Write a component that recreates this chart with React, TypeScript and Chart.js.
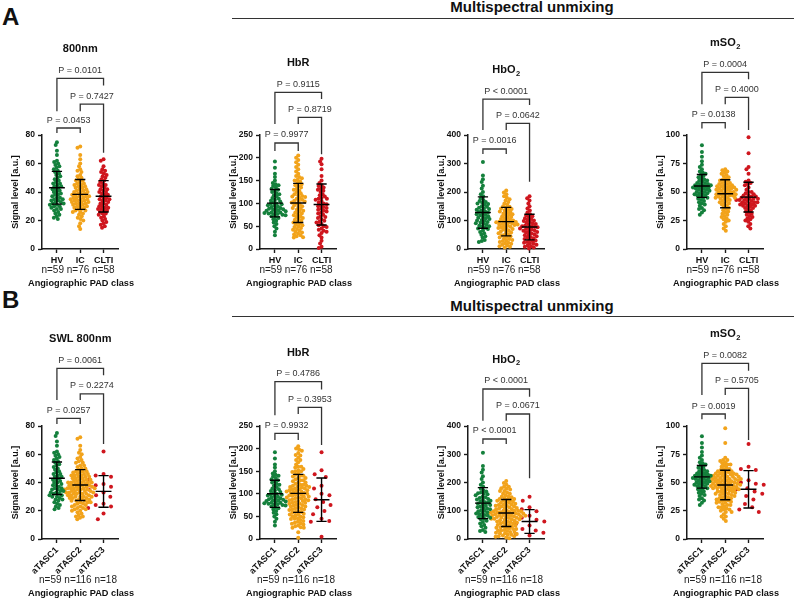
import React, { useEffect, useRef } from 'react';
import { Chart, registerables } from 'chart.js';
Chart.register(...registerables);

const FONT = "'Liberation Sans', Arial, Helvetica, sans-serif";
const AXIS = '#1a1a1a';
const GROUP_COLORS = ['#14803c', '#f2a31b', '#cf161e'];

const CATS_PAD = ['HV', 'IC', 'CLTI'];
const CATS_TASC = ['aTASC1', 'aTASC2', 'aTASC3'];
const N_PAD = [59, 76, 58];
const N_TASC = [59, 116, 18];

// ---------- 800 nm ----------
const HV_800 = [75,73,69,66,62,61,60,59,58,57,56,55,54,53,52,51,50,49,48,47,46,46,45,44,44,43,42,42,41,40,40,39,38,38,37,36,36,35,34,34,33,32,32,31,31,30,30,29,28,28,27,26,25,24,23,22,21,33,35];
const IC_800 = [72,71,66,63,60,58,56,55,54,52,51,50,49,48,48,47,46,46,45,45,44,44,43,43,42,42,41,41,40,40,40,39,39,38,38,38,37,37,37,36,36,36,35,35,35,34,34,34,33,33,33,32,32,32,31,31,30,30,30,29,29,28,28,27,27,26,26,25,24,23,22,21,20,18,16,14];
const CLTI_800 = [63,62,58,56,55,54,53,52,51,50,49,48,47,46,45,44,43,42,42,41,40,40,39,38,38,37,36,36,35,34,34,33,32,32,31,30,30,29,29,28,28,27,27,26,25,25,24,23,22,21,20,19,18,17,16,15,45,35];
const TASC2_800 = [72,71,66,63,60,58,56,55,54,52,51,50,49,48,48,47,46,46,45,45,44,44,43,43,42,42,41,41,40,40,40,39,39,38,38,38,37,37,37,36,36,36,35,35,35,34,34,34,33,33,33,32,32,32,31,31,30,30,30,29,29,28,28,27,27,26,26,25,24,23,22,21,20,18,16,14,61,57,54,52,50,48,47,46,45,44,43,42,41,40,40,39,38,37,36,36,35,34,33,32,31,30,29,28,27,26,25,24,23,22,21,20,19,17,16,15];
const TASC3_800 = [62,46,45,44,42,39,38,37,35,33,31,30,25,24,23,22,18,14];

// ---------- HbR ----------
const HV_HBR = [192,178,165,158,150,145,142,140,138,135,132,130,128,125,122,120,118,115,112,110,108,106,104,102,100,99,98,96,95,94,92,90,89,88,87,86,85,84,83,82,80,80,79,78,77,76,75,74,72,70,68,65,62,58,55,50,45,38,30];
const IC_HBR = [205,200,195,190,185,180,175,170,165,160,158,155,152,150,148,145,142,140,138,135,132,130,128,125,122,120,118,116,114,112,110,108,106,104,102,100,98,96,94,92,90,88,86,84,82,80,78,76,74,72,70,68,66,64,62,60,58,56,54,52,50,48,46,44,42,40,38,36,34,32,30,28,26,25,115,105];
const CLTI_HBR = [198,192,186,175,160,150,145,140,138,135,132,130,128,125,120,118,115,112,110,108,105,102,100,98,96,94,92,90,88,86,84,82,80,78,75,72,70,68,65,62,60,58,55,52,50,48,45,42,40,38,35,30,25,18,12,5,2,110];
const TASC2_HBR = [205,200,195,190,185,180,175,170,165,160,158,155,152,150,148,145,142,140,138,135,132,130,128,125,122,120,118,116,114,112,110,108,106,104,102,100,98,96,94,92,90,88,86,84,82,80,78,76,74,72,70,68,66,64,62,60,58,56,54,52,50,48,46,44,42,40,38,36,34,32,30,28,26,25,115,105,198,186,175,160,150,140,135,130,125,120,118,115,112,110,108,105,102,100,98,96,94,92,90,88,86,84,80,78,75,72,68,65,60,55,50,45,35,25,15,3];
const TASC3_HBR = [192,152,143,137,118,112,100,97,88,82,75,70,62,55,45,40,38,5];

// ---------- HbO2 ----------
const HV_HBO2 = [305,258,245,235,222,212,200,192,185,178,172,168,165,162,160,158,155,150,148,145,142,140,138,135,132,130,128,125,122,120,118,115,112,110,108,105,102,100,98,95,92,90,88,85,82,80,78,75,72,70,65,60,55,50,45,40,32,28,25];
const IC_HBO2 = [205,198,192,185,180,175,170,165,160,155,150,148,145,142,140,138,135,132,130,128,125,122,120,118,115,112,110,108,105,102,100,98,96,94,92,90,88,86,84,82,80,78,76,74,72,70,68,65,62,60,58,55,52,50,48,45,42,40,38,35,32,30,28,25,22,20,18,15,12,10,8,5,100,95,90,85];
const CLTI_HBO2 = [185,178,170,160,150,142,135,128,122,118,115,112,108,105,102,100,98,95,92,90,88,85,82,80,78,76,74,72,70,68,66,64,62,60,58,55,52,50,48,45,42,40,38,35,32,30,28,25,22,20,18,15,12,10,8,5,2,80];
const TASC2_HBO2 = [205,198,192,185,180,175,170,165,160,155,150,148,145,142,140,138,135,132,130,128,125,122,120,118,115,112,110,108,105,102,100,98,96,94,92,90,88,86,84,82,80,78,76,74,72,70,68,65,62,60,58,55,52,50,48,45,42,40,38,35,32,30,28,25,22,20,18,15,12,10,8,5,100,95,90,85,185,178,170,160,150,142,135,128,122,118,115,110,105,100,98,95,92,90,88,85,82,80,78,75,72,70,66,62,58,55,50,45,40,35,30,25,20,15,10,3];
const TASC3_HBO2 = [150,135,112,105,98,82,75,68,62,55,48,42,35,30,22,18,12,8];

// ---------- mSO2 ----------
const HV_SO2 = [91,85,81,77,74,72,70,68,67,66,65,64,63,62,61,60,60,59,58,58,57,57,56,56,55,55,54,54,53,53,52,52,51,51,50,50,49,49,48,48,47,47,46,45,45,44,43,42,41,40,39,38,36,35,34,32,30,56,54];
const IC_SO2 = [70,69,68,67,66,65,64,63,62,61,60,60,59,58,58,57,57,56,56,55,55,54,54,53,53,52,52,51,51,50,50,49,49,48,48,47,47,46,46,45,45,44,44,43,42,42,41,40,40,39,38,37,36,35,34,33,32,31,30,29,28,27,26,25,24,22,20,18,16,55,50,48,52,47,53,45];
const CLTI_SO2 = [98,84,72,70,66,60,59,58,57,56,54,52,50,49,48,47,46,46,45,45,44,44,43,43,42,42,41,41,40,40,39,39,38,38,37,36,35,34,33,32,31,30,29,28,27,26,25,24,22,20,18,47,44,43,50,36,38,41];
const TASC2_SO2 = [70,69,68,67,66,65,64,63,62,61,60,60,59,58,58,57,57,56,56,55,55,54,54,53,53,52,52,51,51,50,50,49,49,48,48,47,47,46,46,45,45,44,44,43,42,42,41,40,40,39,38,37,36,35,34,33,32,31,30,29,28,27,26,25,24,22,20,18,16,55,50,48,52,47,53,45,98,85,72,70,66,62,60,59,58,57,56,55,54,53,52,51,50,49,48,47,46,45,44,43,42,41,40,39,38,37,36,35,34,33,32,30,28,26,24,20];
const TASC3_SO2 = [84,64,62,61,50,49,52,48,45,44,42,40,38,35,31,28,26,24];

// ---------- means / SD ----------
const MEAN_800_PAD = [43, 38.3, 37];
const SD_800_PAD = [11.5, 10.5, 11];
const MEAN_HBR_PAD = [100.5, 101, 97.5];
const SD_HBR_PAD = [30, 43, 45];
const MEAN_HBO2_PAD = [128, 96, 77];
const SD_HBO2_PAD = [55, 50, 45];
const MEAN_SO2_PAD = [55.3, 48.5, 45.5];
const SD_SO2_PAD = [10, 12.3, 13];
const MEAN_800_TASC = [43, 38.2, 33.7];
const SD_800_TASC = [11.5, 10.9, 11.2];
const MEAN_HBR_TASC = [100, 101, 87];
const SD_HBR_TASC = [30, 42, 48];
const MEAN_HBO2_TASC = [127, 92, 62];
const SD_HBO2_TASC = [55, 48, 42];
const MEAN_SO2_TASC = [55, 47.8, 44];
const SD_SO2_TASC = [10, 13, 16.5];

type Bracket = { from: number; to: number; level: number; leftEnd: number; rightEnd: number; label: string };
const br = (from: number, to: number, level: number, leftEnd: number, rightEnd: number, label: string): Bracket => ({ from, to, level, leftEnd, rightEnd, label });

interface PanelCfg {
  axisX: number; row: number; title: string; sub?: string; yMax: number; step: number;
  cats: string[]; ns: number[]; groups: number[][]; means: number[]; sds: number[]; brackets: Bracket[];
}

const ROWS = [
  { canvasTop: 0, height: 295, plotTop: 135, plotBottom: 249, rot: 0, nOff: 21, tOff: 34 },
  { canvasTop: 290, height: 310, plotTop: 426, plotBottom: 539, rot: 45, nOff: 41, tOff: 54 },
];
const LEFT_W = 45;
const PLOT_W = 76;
const RIGHT_PAD = 36;
const CANVAS_W = LEFT_W + PLOT_W + RIGHT_PAD;
const DOT_R = 2.0;
const DOT_GAP = 3.1;
const SPARSE_GAP = 8;

const PANELS: PanelCfg[] = [
  { axisX: 42, row: 0, title: '800nm', yMax: 80, step: 20, cats: CATS_PAD, ns: N_PAD,
    groups: [HV_800, IC_800, CLTI_800], means: MEAN_800_PAD, sds: SD_800_PAD,
    brackets: [br(0, 1, 84.9, 81.4, 81.4, 'P = 0.0453'), br(1, 2, 101.6, 96.7, 67.5, 'P = 0.7427'), br(0, 2, 119.7, 96.7, 114.8, 'P = 0.0101')] },
  { axisX: 260, row: 0, title: 'HbR', yMax: 250, step: 50, cats: CATS_PAD, ns: N_PAD,
    groups: [HV_HBR, IC_HBR, CLTI_HBR], means: MEAN_HBR_PAD, sds: SD_HBR_PAD,
    brackets: [br(0, 1, 232.5, 215, 215, 'P = 0.9977'), br(1, 2, 288.8, 274, 208, 'P = 0.8719'), br(0, 2, 343.6, 274, 329, 'P = 0.9115')] },
  { axisX: 468, row: 0, title: 'HbO', sub: '2', yMax: 400, step: 100, cats: CATS_PAD, ns: N_PAD,
    groups: [HV_HBO2, IC_HBO2, CLTI_HBO2], means: MEAN_HBO2_PAD, sds: SD_HBO2_PAD,
    brackets: [br(0, 1, 350.9, 333, 333, 'P = 0.0016'), br(1, 2, 441, 417.5, 236, 'P = 0.0642'), br(0, 2, 526, 417.5, 505, 'P < 0.0001')] },
  { axisX: 687, row: 0, title: 'mSO', sub: '2', yMax: 100, step: 25, cats: CATS_PAD, ns: N_PAD,
    groups: [HV_SO2, IC_SO2, CLTI_SO2], means: MEAN_SO2_PAD, sds: SD_SO2_PAD,
    brackets: [br(0, 1, 110.8, 105.8, 105.8, 'P = 0.0138'), br(1, 2, 133, 127, 104.4, 'P = 0.4000'), br(0, 2, 155, 127, 149, 'P = 0.0004')] },
  { axisX: 42, row: 1, title: 'SWL 800nm', yMax: 80, step: 20, cats: CATS_TASC, ns: N_TASC,
    groups: [HV_800, TASC2_800, TASC3_800], means: MEAN_800_TASC, sds: SD_800_TASC,
    brackets: [br(0, 1, 85.4, 81.4, 81.4, 'P = 0.0257'), br(1, 2, 102.7, 98.4, 67.3, 'P = 0.2274'), br(0, 2, 120.8, 98.4, 116, 'P = 0.0061')] },
  { axisX: 260, row: 1, title: 'HbR', yMax: 250, step: 50, cats: CATS_TASC, ns: N_TASC,
    groups: [HV_HBR, TASC2_HBR, TASC3_HBR], means: MEAN_HBR_TASC, sds: SD_HBR_TASC,
    brackets: [br(0, 1, 233.8, 219, 219, 'P = 0.9932'), br(1, 2, 291, 276.5, 208, 'P = 0.3953'), br(0, 2, 348, 274, 331, 'P = 0.4786')] },
  { axisX: 468, row: 1, title: 'HbO', sub: '2', yMax: 400, step: 100, cats: CATS_TASC, ns: N_TASC,
    groups: [HV_HBO2, TASC2_HBO2, TASC3_HBO2], means: MEAN_HBO2_TASC, sds: SD_HBO2_TASC,
    brackets: [br(0, 1, 354, 336, 336, 'P < 0.0001'), br(1, 2, 442.5, 418.8, 215, 'P = 0.0671'), br(0, 2, 531, 418.8, 503.7, 'P < 0.0001')] },
  { axisX: 687, row: 1, title: 'mSO', sub: '2', yMax: 100, step: 25, cats: CATS_TASC, ns: N_TASC,
    groups: [HV_SO2, TASC2_SO2, TASC3_SO2], means: MEAN_SO2_TASC, sds: SD_SO2_TASC,
    brackets: [br(0, 1, 110.6, 106, 106, 'P = 0.0019'), br(1, 2, 133.3, 127.4, 87.6, 'P = 0.5705'), br(0, 2, 155.5, 127.4, 149, 'P = 0.0082')] },
];

// beeswarm layout in pixel space: returns horizontal offsets (px)
function swarm(ys: number[], d: number): number[] {
  const order = ys.map((_, i) => i).sort((a, b) => ys[a] - ys[b]);
  const placed: { x: number; y: number }[] = [];
  const out = new Array(ys.length).fill(0);
  for (const i of order) {
    const y = ys[i];
    const iv: [number, number][] = [];
    for (const p of placed) {
      const dy = Math.abs(p.y - y);
      if (dy < d) {
        const w = Math.sqrt(d * d - dy * dy);
        iv.push([p.x - w, p.x + w]);
      }
    }
    const cands = [0];
    for (const [a, b] of iv) cands.push(a, b);
    cands.sort((a, b) => Math.abs(a) - Math.abs(b) || a - b);
    let best = 0;
    for (const c of cands) {
      if (iv.every(([a, b]) => c <= a + 1e-6 || c >= b - 1e-6)) { best = c; break; }
    }
    out[i] = best;
    placed.push({ x: best, y });
  }
  return out;
}

function makeDeco(cfg: PanelCfg, row: typeof ROWS[number]) {
  return {
    id: 'deco',
    afterDatasetsDraw(chart: any) {
      const { ctx } = chart;
      const xs = chart.scales.x, ys = chart.scales.y;
      const unit = xs.getPixelForValue(1) - xs.getPixelForValue(0);
      ctx.save();
      ctx.strokeStyle = '#000';
      ctx.lineWidth = 1.4;
      cfg.means.forEach((m, g) => {
        const cx = xs.getPixelForValue(g);
        const ym = ys.getPixelForValue(m);
        const yt = ys.getPixelForValue(m + cfg.sds[g]);
        const yb = ys.getPixelForValue(m - cfg.sds[g]);
        const hw = 0.34 * unit, cw = 0.22 * unit;
        ctx.beginPath();
        ctx.moveTo(cx - hw, ym); ctx.lineTo(cx + hw, ym);
        ctx.moveTo(cx, yt); ctx.lineTo(cx, yb);
        ctx.moveTo(cx - cw, yt); ctx.lineTo(cx + cw, yt);
        ctx.moveTo(cx - cw, yb); ctx.lineTo(cx + cw, yb);
        ctx.stroke();
      });
      ctx.restore();
    },
    afterDraw(chart: any) {
      const { ctx, chartArea } = chart;
      const xs = chart.scales.x, ys = chart.scales.y;
      ctx.save();
      // brackets
      ctx.strokeStyle = '#333';
      ctx.lineWidth = 1.3;
      ctx.fillStyle = '#333';
      ctx.font = `9px ${FONT}`;
      ctx.textAlign = 'center';
      ctx.textBaseline = 'alphabetic';
      let topY = Infinity;
      cfg.brackets.forEach((b) => {
        const x1 = xs.getPixelForValue(b.from), x2 = xs.getPixelForValue(b.to);
        const yl = ys.getPixelForValue(b.level);
        topY = Math.min(topY, yl);
        ctx.beginPath();
        ctx.moveTo(x1, ys.getPixelForValue(b.leftEnd));
        ctx.lineTo(x1, yl);
        ctx.lineTo(x2, yl);
        ctx.lineTo(x2, ys.getPixelForValue(b.rightEnd));
        ctx.stroke();
        ctx.fillText(b.label, (x1 + x2) / 2, yl - 5.5);
      });
      // title
      const tcx = xs.getPixelForValue(1);
      const tcy = topY - 30;
      ctx.fillStyle = '#111';
      ctx.font = `bold 11px ${FONT}`;
      const w1 = ctx.measureText(cfg.title).width;
      let w2 = 0;
      if (cfg.sub) { ctx.font = `bold 7.5px ${FONT}`; w2 = ctx.measureText(cfg.sub).width + 0.5; }
      const x0 = tcx - (w1 + w2) / 2;
      ctx.textAlign = 'left';
      ctx.font = `bold 11px ${FONT}`;
      ctx.fillText(cfg.title, x0, tcy + 4);
      if (cfg.sub) { ctx.font = `bold 7.5px ${FONT}`; ctx.fillText(cfg.sub, x0 + w1 + 0.5, tcy + 6.5); }
      // y title
      ctx.save();
      ctx.translate(chartArea.left - 26, (chartArea.top + chartArea.bottom) / 2);
      ctx.rotate(-Math.PI / 2);
      ctx.textAlign = 'center';
      ctx.textBaseline = 'middle';
      ctx.font = `bold 9px ${FONT}`;
      ctx.fillText('Signal level [a.u.]', 0, 0);
      ctx.restore();
      // n labels and x title
      const mid = (chartArea.left + chartArea.right) / 2;
      ctx.textAlign = 'center';
      ctx.textBaseline = 'middle';
      ctx.fillStyle = '#222';
      ctx.font = `10px ${FONT}`;
      ctx.fillText(cfg.ns.map((n) => 'n=' + n).join(' '), mid - 2, chartArea.bottom + row.nOff);
      ctx.fillStyle = '#111';
      ctx.font = `bold 9.2px ${FONT}`;
      ctx.fillText('Angiographic PAD class', mid + 1, chartArea.bottom + row.tOff);
      ctx.restore();
    },
  };
}

function Panel({ cfg }: { cfg: PanelCfg }) {
  const ref = useRef<HTMLCanvasElement>(null);
  const row = ROWS[cfg.row];
  useEffect(() => {
    const canvas = ref.current!;
    const datasets = cfg.groups.map((vals, g) => ({
      data: vals.map((v) => ({ x: g, y: v })),
      backgroundColor: GROUP_COLORS[g],
      borderWidth: 0,
      pointRadius: DOT_R,
      pointHoverRadius: DOT_R,
      clip: false as any,
    }));
    const tickFont = { family: FONT, size: 8.5, weight: 'bold' as const };
    const chart = new Chart(canvas, {
      type: 'scatter',
      data: { datasets },
      options: {
        animation: false,
        responsive: false,
        maintainAspectRatio: false,
        devicePixelRatio: 1,
        events: [],
        layout: { padding: { left: 0, right: RIGHT_PAD, top: row.plotTop - row.canvasTop, bottom: 0 } },
        plugins: { legend: { display: false }, tooltip: { enabled: false } },
        scales: {
          x: {
            type: 'linear', min: -0.64, max: 2.62,
            afterBuildTicks: (s: any) => { s.ticks = [0, 1, 2].map((v) => ({ value: v })); },
            afterFit: (s: any) => { s.height = row.canvasTop + row.height - row.plotBottom; },
            grid: { display: true, drawOnChartArea: false, drawTicks: true, tickLength: 4, tickColor: AXIS, tickWidth: 1.4 },
            border: { display: true, color: AXIS, width: 1.5 },
            ticks: {
              autoSkip: false, maxRotation: row.rot, minRotation: row.rot, padding: 2, color: '#111',
              font: { family: FONT, size: 9, weight: 'bold' },
              callback: (v: any) => cfg.cats[Math.round(Number(v))] ?? '',
            },
          },
          y: {
            type: 'linear', min: 0, max: cfg.yMax,
            afterFit: (s: any) => { s.width = LEFT_W; },
            grid: { display: true, drawOnChartArea: false, drawTicks: true, tickLength: 4, tickColor: AXIS, tickWidth: 1.4 },
            border: { display: true, color: AXIS, width: 1.5 },
            ticks: { stepSize: cfg.step, padding: 3, color: '#111', font: tickFont },
          },
        },
      } as any,
      plugins: [makeDeco(cfg, row) as any],
    });
    const xs: any = chart.scales.x, ys: any = chart.scales.y;
    const unit = xs.getPixelForValue(1) - xs.getPixelForValue(0);
    cfg.groups.forEach((vals, g) => {
      const py = vals.map((v) => ys.getPixelForValue(v));
      const off = swarm(py, vals.length < 30 ? SPARSE_GAP : DOT_GAP);
      (chart.data.datasets[g] as any).data = vals.map((v, i) => ({ x: g + off[i] / unit, y: v }));
    });
    chart.update('none');
    return () => chart.destroy();
  }, []);
  return (
    <canvas
      ref={ref}
      width={CANVAS_W}
      height={row.height}
      style={{ position: 'absolute', left: cfg.axisX - LEFT_W, top: row.canvasTop, width: CANVAS_W, height: row.height }}
    />
  );
}

const HEADERS = [
  { letter: 'A', letterTop: 5, textTop: -1, lineTop: 17.5 },
  { letter: 'B', letterTop: 288, textTop: 297.5, lineTop: 315.5 },
];

export default function App() {
  return (
    <div style={{ position: 'absolute', left: 0, top: 0, width: 794, height: 600, background: '#fff', overflow: 'hidden', fontFamily: FONT, color: '#111' }}>
      {HEADERS.map((h) => (
        <React.Fragment key={h.letter}>
          <div style={{ position: 'absolute', left: 2, top: h.letterTop, fontSize: 24, lineHeight: '24px', fontWeight: 'bold' }}>{h.letter}</div>
          <div style={{ position: 'absolute', left: 532, top: h.textTop, transform: 'translateX(-50%)', whiteSpace: 'nowrap', fontSize: 15, lineHeight: '15px', fontWeight: 'bold' }}>Multispectral unmixing</div>
          <div style={{ position: 'absolute', left: 232, top: h.lineTop, width: 562, height: 1.5, background: '#333' }} />
        </React.Fragment>
      ))}
      {PANELS.map((p, i) => (
        <Panel key={i} cfg={p} />
      ))}
    </div>
  );
}
